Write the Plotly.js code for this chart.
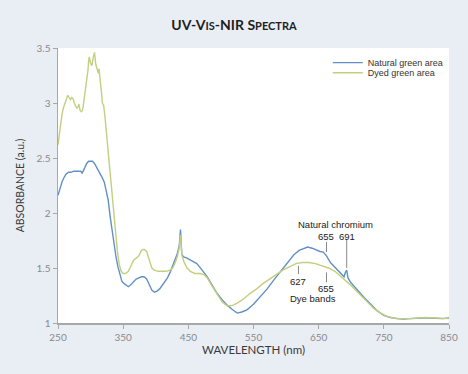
<!DOCTYPE html>
<html>
<head>
<meta charset="utf-8">
<script src="https://cdn.plot.ly/plotly-3.0.1.min.js"></script>
<style>html,body{margin:0;padding:0;background:#e9edf4;}#chart{width:468px;height:374px;}</style>
</head>
<body>
<div id="chart"></div>
<script>
// Natural green area (blue curve)
const wlNatural = [250,253,256,259,262,266,270,274,278,282,285,287,289,291,294,297,300,303,306,309,312,315,318,321,324,327,330,333,336,339,342,345,348,351,355,358,362,366,370,374,378,382,386,390,394,398,402,406,410,414,418,422,426,430,433,436,438,440,443,448,455,463,470,479,487,494,502,510,518,525,532,540,550,561,571,581,590,596,604,612,620,627,633,640,647,652,657,662,668,674,680,685,689,691,693,695,699,705,712,720,730,740,750,760,770,780,790,800,810,820,830,840,850];
const absNatural = [2.16,2.23,2.28,2.32,2.35,2.37,2.37,2.38,2.38,2.38,2.38,2.36,2.38,2.41,2.45,2.47,2.47,2.47,2.45,2.42,2.38,2.35,2.32,2.28,2.21,2.12,1.97,1.83,1.70,1.60,1.51,1.43,1.38,1.36,1.34,1.33,1.35,1.38,1.40,1.41,1.42,1.42,1.40,1.35,1.30,1.28,1.29,1.31,1.34,1.37,1.41,1.46,1.52,1.58,1.63,1.70,1.85,1.62,1.60,1.59,1.57,1.54,1.49,1.42,1.34,1.27,1.21,1.16,1.12,1.09,1.10,1.12,1.17,1.24,1.31,1.39,1.46,1.50,1.56,1.62,1.66,1.68,1.69,1.68,1.66,1.65,1.645,1.61,1.55,1.51,1.47,1.44,1.42,1.46,1.48,1.41,1.37,1.33,1.28,1.23,1.17,1.11,1.07,1.05,1.04,1.035,1.04,1.045,1.045,1.045,1.04,1.04,1.045];

// Dyed green area (green curve)
const wlDyed = [250,252,254,256,258,261,263,265,267,269,271,273,275,277,279,281,282,284,286,288,290,292,294,296,297,298,300,302,304,306,308,310,312,313,315,317,318,320,322,324,326,328,330,332,335,338,341,344,347,350,354,358,362,366,370,374,378,382,386,390,394,398,404,410,416,422,426,430,433,436,438,440,443,448,453,460,468,474,479,486,494,502,510,518,525,535,545,555,565,575,585,595,605,615,625,635,645,655,665,675,685,692,700,708,716,725,735,745,755,765,775,790,800,815,830,850];
const absDyed = [2.62,2.72,2.82,2.89,2.95,3.00,3.02,3.07,3.05,3.03,3.05,3.04,3.00,2.98,2.95,2.97,2.99,2.93,2.92,2.94,3.03,3.10,3.18,3.30,3.38,3.42,3.36,3.34,3.41,3.46,3.35,3.30,3.27,3.31,3.21,3.08,3.00,2.98,2.88,2.75,2.63,2.50,2.38,2.25,2.02,1.82,1.66,1.53,1.47,1.45,1.45,1.47,1.52,1.57,1.59,1.61,1.66,1.67,1.65,1.57,1.50,1.48,1.47,1.47,1.47,1.48,1.50,1.55,1.60,1.68,1.80,1.62,1.56,1.50,1.47,1.45,1.45,1.44,1.41,1.34,1.26,1.19,1.155,1.16,1.18,1.22,1.27,1.31,1.36,1.40,1.44,1.48,1.51,1.54,1.55,1.55,1.54,1.52,1.50,1.47,1.42,1.38,1.34,1.29,1.24,1.19,1.13,1.09,1.06,1.045,1.04,1.04,1.045,1.05,1.045,1.04];

const seriesNames = ["Natural green area", "Dyed green area"];
const xTicks = [250,350,450,550,650,750,850];
const yTicks = [1,1.5,2,2.5,3,3.5];
const yTickLabels = ["1","1.5","2","2.5","3","3.5"];

const traces = [
  {x: wlNatural, y: absNatural, name: seriesNames[0], type: 'scatter', mode: 'lines',
   line: {color: '#6290c6', width: 1.4}, legend: 'legend'},
  {x: wlDyed, y: absDyed, name: seriesNames[1], type: 'scatter', mode: 'lines',
   line: {color: '#c3cf7e', width: 1.4}, legend: 'legend2'}
];

const annFont = {family: 'Liberation Sans, Arial, sans-serif', size: 9.5, color: '#222'};
const lineStyle = {color: '#888', width: 1};
const legFont = {family: 'Liberation Sans, Arial, sans-serif', size: 9, color: '#333'};

const layout = {
  width: 468, height: 374,
  paper_bgcolor: '#e9edf4',
  plot_bgcolor: '#ffffff',
  margin: {l: 58, r: 19, t: 48, b: 51},
  title: {
    text: "<b>UV-V<span style='font-size:11px'>IS</span>-NIR S<span style='font-size:11px'>PECTRA</span></b>",
    font: {family: 'Lato, Open Sans, sans-serif', size: 14, color: '#1e1e1e'},
    x: 0.5, xanchor: 'center', y: 0.932, yanchor: 'middle'
  },
  showlegend: true,
  legend: {
    x: 0.69, y: 0.947, xanchor: 'left', yanchor: 'middle',
    bgcolor: 'rgba(0,0,0,0)', font: legFont, itemwidth: 30
  },
  legend2: {
    x: 0.69, y: 0.910, xanchor: 'left', yanchor: 'middle',
    bgcolor: 'rgba(0,0,0,0)', font: legFont, itemwidth: 30
  },
  xaxis: {
    range: [250, 850], tickvals: xTicks, ticktext: xTicks.map(String),
    showgrid: false, zeroline: false, showline: true, linecolor: '#a8a8a8', linewidth: 1.5,
    ticks: 'outside', ticklen: 4, tickcolor: '#a8a8a8', tickwidth: 1,
    tickfont: {family: 'Lato, sans-serif', size: 10, color: '#8a8a8a'},
    title: {text: 'WAVELENGTH (nm)', font: {family: 'Lato, sans-serif', size: 11.5, color: '#3a3a3a'}, standoff: 4}
  },
  yaxis: {
    range: [1, 3.5], tickvals: yTicks, ticktext: yTickLabels,
    showgrid: false, zeroline: false, showline: true, linecolor: '#a8a8a8', linewidth: 1.5,
    ticks: 'outside', ticklen: 4, tickcolor: '#a8a8a8', tickwidth: 1,
    tickfont: {family: 'Lato, sans-serif', size: 10, color: '#8a8a8a'},
    title: {text: 'ABSORBANCE (a.u.)', font: {family: 'Lato, sans-serif', size: 10.5, color: '#3a3a3a'}, standoff: 10}
  },
  annotations: [
    {x: 676, y: 1.90, xref: 'x', yref: 'y', text: 'Natural chromium', showarrow: false, font: annFont},
    {x: 662, y: 1.79, xref: 'x', yref: 'y', text: '655', showarrow: false, font: annFont},
    {x: 693, y: 1.79, xref: 'x', yref: 'y', text: '691', showarrow: false, font: annFont},
    {x: 619, y: 1.38, xref: 'x', yref: 'y', text: '627', showarrow: false, font: annFont},
    {x: 662, y: 1.31, xref: 'x', yref: 'y', text: '655', showarrow: false, font: annFont},
    {x: 641, y: 1.22, xref: 'x', yref: 'y', text: 'Dye bands', showarrow: false, font: annFont}
  ],
  shapes: [
    {type: 'line', xref: 'x', yref: 'y', x0: 662, x1: 662, y0: 1.736, y1: 1.645, line: lineStyle},
    {type: 'line', xref: 'x', yref: 'y', x0: 693, x1: 693, y0: 1.755, y1: 1.50, line: lineStyle},
    {type: 'line', xref: 'x', yref: 'y', x0: 619, x1: 619, y0: 1.52, y1: 1.445, line: lineStyle},
    {type: 'line', xref: 'x', yref: 'y', x0: 662, x1: 662, y0: 1.46, y1: 1.37, line: lineStyle}
  ]
};

Plotly.newPlot('chart', traces, layout, {displayModeBar: false, staticPlot: true});
</script>
</body>
</html>
